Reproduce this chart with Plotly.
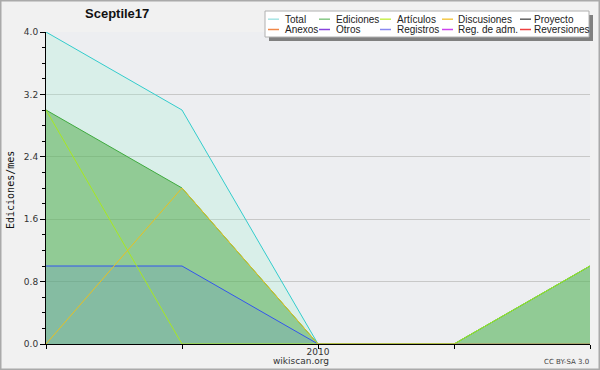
import plotly.graph_objects as go

# ---- data ----
months = ["2009-11", "2009-12", "2010-01", "2010-02", "2010-03"]
tick_labels = ["", "", "2010", "", ""]
total = [4, 3, 0, 0, 1]
ediciones = [3, 2, 0, 0, 1]
articulos = [3, 0, 0, 0, 1]
discusiones = [0, 2, 0, 0, 0]
registros = [1, 1, 0, 0, 0]

legend_row1 = ["Total", "Ediciones", "Artículos", "Discusiones", "Proyecto"]
legend_row2 = ["Anexos", "Otros", "Registros", "Reg. de adm.", "Reversiones"]
legend_colors1 = ["#a6e4e4", "#86c886", "#c8f050", "#f4c848", "#606060"]
legend_colors2 = ["#f08848", "#8844dd", "#8888f0", "#cc44ee", "#ee4040"]

W, H = 600, 370
L, R, T, B = 46, 10, 32, 26
PW, PH = W - L - R, H - T - B


def px(x):
    return (x - L) / PW


def py(y):
    return (H - B - y) / PH


fig = go.Figure()
fig.add_trace(go.Scatter(x=months, y=total, mode="lines", fill="tozeroy",
                         fillcolor="rgba(158,243,213,0.25)",
                         line=dict(color="#33cccc", width=1), showlegend=False))
fig.add_trace(go.Scatter(x=months, y=ediciones, mode="lines", fill="tozeroy",
                         fillcolor="rgba(74,168,66,0.5)",
                         line=dict(color="#3faa3f", width=1), showlegend=False))
fig.add_trace(go.Scatter(x=months, y=registros, mode="lines", fill="tozeroy",
                         fillcolor="rgba(64,96,240,0.14)",
                         line=dict(color="#3355ee", width=1), showlegend=False))
fig.add_trace(go.Scatter(x=months, y=articulos, mode="lines",
                         line=dict(color="#a8e820", width=1), showlegend=False))
fig.add_trace(go.Scatter(x=months, y=discusiones, mode="lines",
                         line=dict(color="#e8c020", width=1), showlegend=False))

shapes = []
annotations = []

# outer border
shapes.append(dict(type="rect", xref="paper", yref="paper",
                   x0=px(0.5), x1=px(W - 0.5), y0=py(0.5), y1=py(H - 0.5),
                   line=dict(color="#aaaaaa", width=2), layer="above"))

# manual legend box with shadow
shapes.append(dict(type="rect", xref="paper", yref="paper",
                   x0=px(269), x1=px(593), y0=py(15), y1=py(41),
                   fillcolor="#808080", line=dict(width=0), layer="above"))
shapes.append(dict(type="rect", xref="paper", yref="paper",
                   x0=px(265), x1=px(589), y0=py(11), y1=py(37),
                   fillcolor="#ffffff", line=dict(color="#b0b0b0", width=1), layer="above"))

sym_x = [268, 319, 380, 442, 520]
txt_x = [284, 335, 396, 457, 533]
for row_y, names, cols in [(19.2, legend_row1, legend_colors1), (29.5, legend_row2, legend_colors2)]:
    for i, (name, col) in enumerate(zip(names, cols)):
        shapes.append(dict(type="line", xref="paper", yref="paper",
                           x0=px(sym_x[i]), x1=px(sym_x[i] + 11), y0=py(row_y), y1=py(row_y),
                           line=dict(color=col, width=1.5), layer="above"))
        annotations.append(dict(text=name, xref="paper", yref="paper",
                                x=px(txt_x[i]), y=py(row_y), xanchor="left", yanchor="middle",
                                showarrow=False, borderpad=0,
                                font=dict(family="Liberation Sans", size=10, color="#222222")))

# title
annotations.append(dict(text="<b>Sceptile17</b>", xref="paper", yref="paper",
                        x=px(117), y=py(14), xanchor="center", yanchor="middle", showarrow=False,
                        font=dict(family="Liberation Sans", size=13, color="#111111")))
# y axis title
annotations.append(dict(text="Ediciones/mes", xref="paper", yref="paper",
                        x=px(10), y=py(190), xanchor="center", yanchor="middle", showarrow=False,
                        textangle=-90,
                        font=dict(family="DejaVu Sans Mono", size=10, color="#111111")))
# footer
annotations.append(dict(text="wikiscan.org", xref="paper", yref="paper",
                        x=px(301), y=py(361), xanchor="center", yanchor="middle", showarrow=False,
                        borderpad=0,
                        font=dict(family="DejaVu Sans", size=9, color="#333333")))
annotations.append(dict(text="CC BY-SA 3.0", xref="paper", yref="paper",
                        x=px(590), y=py(362), xanchor="right", yanchor="middle", showarrow=False,
                        borderpad=0,
                        font=dict(family="DejaVu Sans", size=7, color="#444444")))

fig.update_layout(
    width=W, height=H,
    margin=dict(l=L, r=R, t=T, b=B, pad=0),
    paper_bgcolor="#f1f1f1",
    plot_bgcolor="#edeef1",
    showlegend=False,
    shapes=shapes,
    annotations=annotations,
    hovermode=False,
)
fig.update_xaxes(type="category", range=[0, 4], tickmode="array", tickvals=months, ticktext=tick_labels,
                 showgrid=False, zeroline=False, showline=True, linecolor="#000000", linewidth=1,
                 ticks="outside", ticklen=4, tickcolor="#000000", ticklabelstandoff=-5,
                 tickfont=dict(family="DejaVu Sans", size=9, color="#333333"))
fig.update_yaxes(range=[0, 4], tickmode="linear", tick0=0, dtick=0.8, tickformat=".1f",
                 showgrid=True, gridcolor="#c8c8c8", gridwidth=1, zeroline=False,
                 showline=True, linecolor="#000000", linewidth=1,
                 ticks="outside", ticklen=5, tickcolor="#000000",
                 minor=dict(ticks="outside", ticklen=3, dtick=0.2, tick0=0, tickcolor="#000000", showgrid=False),
                 tickfont=dict(family="DejaVu Sans", size=9, color="#333333"))

fig.write_html("out.html", config={"displayModeBar": False},
               post_script="document.body.style.margin='0';document.body.style.padding='0';")
